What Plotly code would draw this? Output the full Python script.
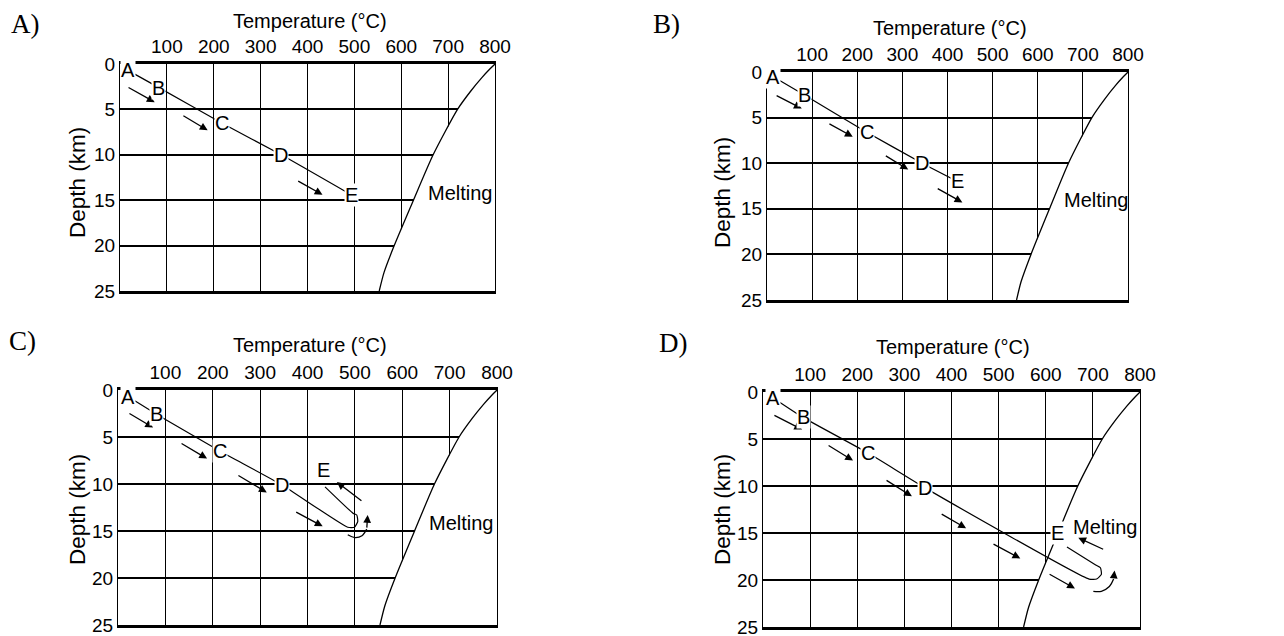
import plotly.graph_objects as go

# ---------------- data ----------------
temp_ticks = [100, 200, 300, 400, 500, 600, 700, 800]
depth_ticks = [0, 5, 10, 15, 20, 25]

# melting curve (shared by all panels)
melt_temp = [800, 790, 772, 748, 720, 668, 626, 585, 563, 553]
melt_depth = [0, 0.5, 1.5, 3, 5, 10, 15, 20, 23, 25]

letters = ["A", "B", "C", "D", "E"]

# panel A
pathA_temp = [17, 83, 217, 344, 493]
pathA_depth = [0.7, 2.6, 6.5, 10.0, 14.4]
labA_temp = [17, 83, 217, 344, 493]
labA_depth = [0.7, 2.6, 6.5, 10.0, 14.4]
arrA_from_t = [15, 132, 377]
arrA_from_d = [2.5, 5.6, 12.8]
arrA_to_t = [74, 187, 432]
arrA_to_d = [4.2, 7.3, 14.4]

# panel B
pathB_temp = [13, 82, 221, 344, 422]
pathB_depth = [0.5, 2.5, 6.6, 10.0, 12.0]
labB_temp = [13, 82, 221, 344, 422]
labB_depth = [0.5, 2.5, 6.6, 10.0, 12.0]
arrB_from_t = [18, 135, 260, 375]
arrB_from_d = [2.5, 5.6, 9.1, 12.7]
arrB_to_t = [77, 190, 313, 433]
arrB_to_d = [4.0, 7.1, 10.7, 14.3]

# panel C
pathC_temp = [21, 82, 215, 346, 485, 499, 506, 504, 496, 437]
pathC_depth = [0.7, 2.6, 6.5, 10.1, 14.6, 14.6, 14.0, 13.3, 13.1, 10.3]
labC_temp = [21, 82, 215, 346, 433]
labC_depth = [0.7, 2.6, 6.5, 10.1, 8.5]
arrC_from_t = [21, 131, 251, 373, 517]
arrC_from_d = [2.4, 5.6, 9.0, 12.9, 11.9]
arrC_to_t = [74, 188, 314, 432, 462]
arrC_to_d = [4.0, 7.3, 10.9, 14.5, 9.8]
curvC_temp = [485, 500, 515, 525, 527]
curvC_depth = [15.4, 15.7, 15.5, 14.8, 13.3]

# panel D
pathD_temp = [21, 85, 223, 344, 692, 708, 718, 716, 706, 645]
pathD_depth = [0.6, 2.7, 6.5, 10.2, 19.9, 19.9, 19.4, 18.7, 18.4, 16.5]
labD_temp = [21, 85, 223, 344, 624]
labD_depth = [0.6, 2.7, 6.5, 10.2, 15.0]
arrD_from_t = [21, 136, 259, 376, 486, 605, 725]
arrD_from_d = [2.4, 5.6, 9.3, 12.9, 16.1, 19.3, 16.8]
arrD_to_t = [83, 191, 316, 431, 546, 662, 669]
arrD_to_d = [4.0, 7.3, 11.1, 14.5, 17.7, 20.9, 15.5]
curvD_temp = [701, 718, 735, 744, 746]
curvD_depth = [21.2, 21.2, 20.7, 19.9, 19.0]

melt_label_temp = [725, 729, 723, 726]
melt_label_depth = [14.2, 14.0, 14.1, 14.4]

panel_names = ["A)", "B)", "C)", "D)"]

# ---------------- layout helpers ----------------
OFF = 8  # page body margin
W, H = 1284 - OFF, 636 - OFF
def px_x(p):
    return (p - OFF) / W
def px_y(p):
    return 1 - (p - OFF) / H

# panel boxes in pixels: (left, right, top, bottom)
boxes = [(120, 495, 64, 291), (767, 1128, 72, 300), (118, 497, 390, 625), (763, 1140, 392, 627)]
panel_label_pos = [(25, 24), (666, 24), (22, 341), (673, 343)]
temp_title_pos = [(310, 21), (950, 28), (310, 345), (953, 347)]
depth_title_pos = [(77, 183), (723, 192), (77, 510), (722, 510)]

FONT = "Liberation Sans, Arial, sans-serif"

panels = [
    dict(pt=pathA_temp, pd=pathA_depth, lt=labA_temp, ld=labA_depth,
         aft=arrA_from_t, afd=arrA_from_d, att=arrA_to_t, atd=arrA_to_d, ct=None, cd=None),
    dict(pt=pathB_temp, pd=pathB_depth, lt=labB_temp, ld=labB_depth,
         aft=arrB_from_t, afd=arrB_from_d, att=arrB_to_t, atd=arrB_to_d, ct=None, cd=None),
    dict(pt=pathC_temp, pd=pathC_depth, lt=labC_temp, ld=labC_depth,
         aft=arrC_from_t, afd=arrC_from_d, att=arrC_to_t, atd=arrC_to_d, ct=curvC_temp, cd=curvC_depth),
    dict(pt=pathD_temp, pd=pathD_depth, lt=labD_temp, ld=labD_depth,
         aft=arrD_from_t, afd=arrD_from_d, att=arrD_to_t, atd=arrD_to_d, ct=curvD_temp, cd=curvD_depth),
]

fig = go.Figure()
layout = dict(width=W, height=H, margin=dict(l=0, r=0, t=0, b=0, autoexpand=False),
              paper_bgcolor="white", plot_bgcolor="white", showlegend=False)
annotations = []

for i, p in enumerate(panels):
    n = "" if i == 0 else str(i + 1)
    xa, ya = "x" + n, "y" + n
    l, r, t, b = boxes[i]
    layout["xaxis" + n] = dict(
        domain=[px_x(l), px_x(r)], range=[0, 800], side="top", anchor=ya,
        tickvals=temp_ticks, ticks="", showgrid=True, gridcolor="black", gridwidth=1.4,
        showline=True, linecolor="black", linewidth=3, mirror=True, zeroline=False,
        automargin=False, ticklabeloverflow="allow",
        tickfont=dict(family=FONT, size=19, color="black"), fixedrange=True)
    layout["yaxis" + n] = dict(
        domain=[px_y(b), px_y(t)], range=[25, 0], anchor=xa,
        tickvals=depth_ticks, ticks="", showgrid=True, gridcolor="black", gridwidth=2.4,
        showline=True, linecolor="black", linewidth=1.2, mirror=True, zeroline=False,
        automargin=False, ticklabeloverflow="allow",
        tickfont=dict(family=FONT, size=19, color="black"), fixedrange=True)

    # white region beyond the melting curve (hides grid there)
    fig.add_trace(go.Scatter(
        x=melt_temp + [800, 800], y=melt_depth + [25, 0], xaxis=xa, yaxis=ya,
        mode="lines", fill="toself", fillcolor="white", line=dict(width=0),
        hoverinfo="skip"))
    # melting curve
    fig.add_trace(go.Scatter(
        x=melt_temp, y=melt_depth, xaxis=xa, yaxis=ya, mode="lines",
        line=dict(color="black", width=1.3, shape="spline", smoothing=0.6), hoverinfo="skip"))
    # path
    fig.add_trace(go.Scatter(
        x=p["pt"], y=p["pd"], xaxis=xa, yaxis=ya, mode="lines",
        line=dict(color="black", width=1.2, shape="spline", smoothing=0.5), hoverinfo="skip"))
    # curved return arrow
    if p["ct"] is not None:
        fig.add_trace(go.Scatter(
            x=p["ct"][:-1], y=p["cd"][:-1], xaxis=xa, yaxis=ya, mode="lines",
            line=dict(color="black", width=1.3, shape="spline"), hoverinfo="skip"))
        annotations.append(dict(
            x=p["ct"][-1], y=p["cd"][-1], ax=p["ct"][-2], ay=p["cd"][-2],
            xref=xa, yref=ya, axref=xa, ayref=ya, text="", showarrow=True,
            arrowhead=2, arrowsize=1.2, arrowwidth=1.3, arrowcolor="black"))
    # straight arrows
    for ft, fd, tt, td in zip(p["aft"], p["afd"], p["att"], p["atd"]):
        annotations.append(dict(
            x=tt, y=td, ax=ft, ay=fd, xref=xa, yref=ya, axref=xa, ayref=ya,
            text="", showarrow=True, arrowhead=2, arrowsize=1.2, arrowwidth=1.3,
            arrowcolor="black"))
    # letter labels
    for lab, lt, ld in zip(letters, p["lt"], p["ld"]):
        annotations.append(dict(
            x=lt, y=ld, xref=xa, yref=ya, text=lab, showarrow=False,
            xanchor="center", yanchor="middle",
            font=dict(family=FONT, size=20, color="black"), bgcolor="white", borderpad=0))
    # Melting label
    annotations.append(dict(
        x=melt_label_temp[i], y=melt_label_depth[i], xref=xa, yref=ya, text="Melting",
        showarrow=False, xanchor="center", yanchor="middle",
        font=dict(family=FONT, size=20, color="black")))
    # titles
    tx, ty = temp_title_pos[i]
    annotations.append(dict(x=px_x(tx), y=px_y(ty), xref="paper", yref="paper",
                            text="Temperature (°C)", showarrow=False,
                            xanchor="center", yanchor="middle",
                            font=dict(family=FONT, size=20, color="black")))
    dx, dy = depth_title_pos[i]
    annotations.append(dict(x=px_x(dx), y=px_y(dy), xref="paper", yref="paper",
                            text="Depth (km)", showarrow=False, textangle=-90,
                            xanchor="center", yanchor="middle",
                            font=dict(family=FONT, size=22.5, color="black")))
    lx, ly = panel_label_pos[i]
    annotations.append(dict(x=px_x(lx), y=px_y(ly), xref="paper", yref="paper",
                            text=panel_names[i], showarrow=False,
                            xanchor="center", yanchor="middle",
                            font=dict(family="Liberation Serif, Times New Roman, serif", size=27, color="black")))

layout["annotations"] = annotations
fig.update_layout(**layout)
fig.write_html("out.html")
